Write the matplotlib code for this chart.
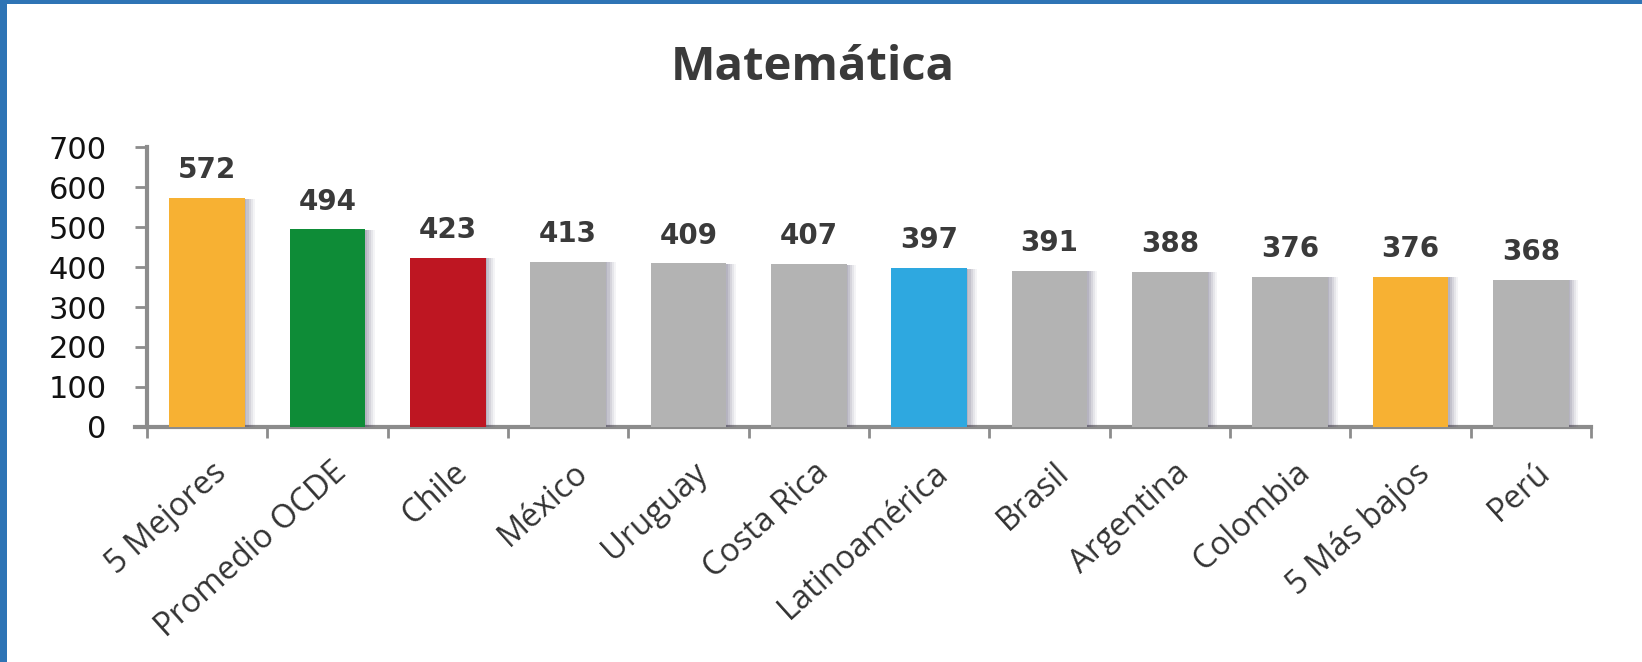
import matplotlib
matplotlib.use("Agg")
import matplotlib.pyplot as plt
import matplotlib.patheffects as pe
import matplotlib.transforms as mtransforms
from matplotlib.patches import Rectangle
import numpy as np

categories = ["5 Mejores", "Promedio OCDE", "Chile", "México", "Uruguay", "Costa Rica",
              "Latinoamérica", "Brasil", "Argentina", "Colombia", "5 Más bajos", "Perú"]
values = [572, 494, 423, 413, 409, 407, 397, 391, 388, 376, 376, 368]
colors = ["#F7B133", "#0E8C37", "#BE1622", "#B3B3B3", "#B3B3B3", "#B3B3B3",
          "#2EA8E0", "#B3B3B3", "#B3B3B3", "#B3B3B3", "#F7B133", "#B3B3B3"]
yticks = [0, 100, 200, 300, 400, 500, 600, 700]

W, H = 1642, 662
fig = plt.figure(figsize=(W / 100, H / 100), dpi=100)
fig.patch.set_facecolor("white")

# blue frame (left and top)
fig.patches.append(Rectangle((0, 0), 7 / W, 1, transform=fig.transFigure,
                             facecolor="#2E74B5", edgecolor="none", zorder=10))
fig.patches.append(Rectangle((0, 1 - 4 / H), 1, 4 / H, transform=fig.transFigure,
                             facecolor="#2E74B5", edgecolor="none", zorder=10))

ax = fig.add_axes([147 / W, 235 / H, (1591 - 147) / W, 280 / H])
x = np.arange(len(categories))

shadow = [pe.SimplePatchShadow(offset=(o, -0.5), shadow_rgbFace="#4a4466", alpha=a)
          for o, a in [(7, 0.06), (5.5, 0.08), (4, 0.10), (2.5, 0.12), (1, 0.12)]]
bars = ax.bar(x, values, width=0.63, color=colors, zorder=3)
for b in bars:
    b.set_path_effects(shadow + [pe.Normal()])

for xi, v in zip(x, values):
    ax.annotate(str(v), (xi, v), xytext=(0, 10), textcoords="offset points",
                ha="center", va="bottom", fontsize=20, fontweight="bold",
                color="#3a3a3a", family="DejaVu Sans")

ax.set_xlim(-0.5, len(categories) - 0.5)
ax.set_ylim(0, 700)
ax.set_yticks(yticks)
ax.set_yticklabels([str(t) for t in yticks], fontsize=22, color="#111111",
                   family="DejaVu Sans")
ax.tick_params(axis="y", length=9, width=2, color="#8c8c8c", pad=20)

ax.set_xticks(x)
ax.set_xticklabels(categories, rotation=42, ha="right", rotation_mode="anchor",
                   fontsize=23.5, color="#333333", family="Open Sans")
ax.tick_params(axis="x", which="major", length=0, pad=21)
ax.set_xticks(np.arange(-0.5, len(categories)), minor=True)
ax.tick_params(axis="x", which="minor", length=8, width=2, color="#8c8c8c")

# nudge the rotated labels slightly to the right, as in the reference
offset = mtransforms.ScaledTranslation(4 / 100, 0, fig.dpi_scale_trans)
for lab in ax.get_xticklabels():
    lab.set_transform(lab.get_transform() + offset)

for s in ["top", "right"]:
    ax.spines[s].set_visible(False)
for s in ["left", "bottom"]:
    ax.spines[s].set_color("#8c8c8c")
    ax.spines[s].set_linewidth(3)
ax.spines["bottom"].set_bounds(-0.6, len(categories) - 0.5)

fig.text(0.495, 1 - 68 / H, "Matemática", ha="center", va="center",
         fontsize=34, fontweight="bold", color="#3a3a3a", family="Open Sans")

fig.savefig("out.png", dpi=100)
